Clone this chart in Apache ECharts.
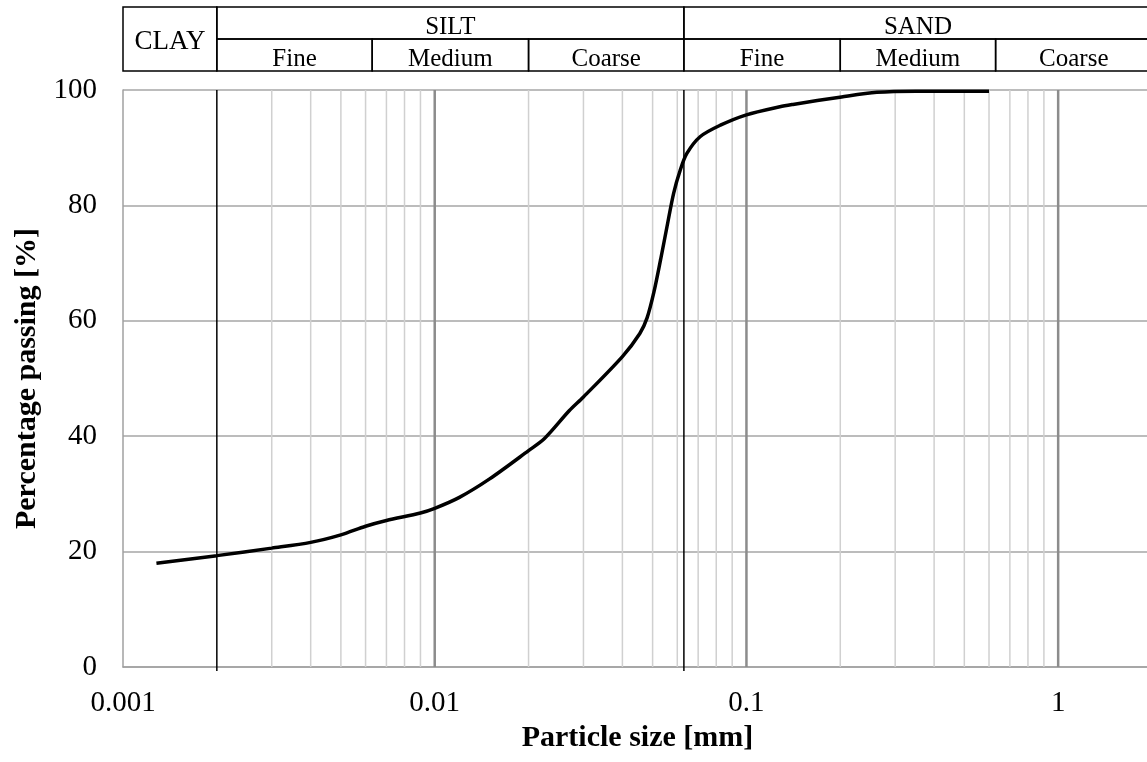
<!DOCTYPE html>
<html>
<head>
<meta charset="utf-8">
<script src="https://cdn.jsdelivr.net/npm/echarts@6/dist/echarts.min.js"></script>
<style>
  html, body { margin: 0; padding: 0; background: #ffffff; }
  #chart { width: 1147px; height: 762px; }
</style>
</head>
<body>
<div id="chart"></div>
<script>
// Grain size distribution (sieve + hydrometer)
const sizeMm = [0.00128, 0.002, 0.003, 0.004, 0.005, 0.006, 0.007, 0.009, 0.010, 0.012,
                0.015, 0.020, 0.0225, 0.027, 0.030, 0.040, 0.0455, 0.048, 0.0505, 0.053,
                0.0556, 0.0584, 0.0613, 0.0644, 0.071, 0.0825, 0.100, 0.128, 0.141, 0.202,
                0.262, 0.35, 0.60];
const passingPct = [18.0, 19.3, 20.6, 21.6, 22.9, 24.4, 25.4, 26.7, 27.5, 29.4,
                    32.6, 37.5, 39.6, 44.4, 46.8, 53.8, 57.8, 60.5, 65.0, 70.5,
                    76.3, 82.1, 86.1, 89.0, 91.9, 93.9, 95.7, 97.1, 97.5, 98.8,
                    99.6, 99.8, 99.8];

// Axis ticks
const xTickValues = [0.001, 0.01, 0.1, 1];
const xTickLabels = ['0.001', '0.01', '0.1', '1'];
const yTickValues = [0, 20, 40, 60, 80, 100];

// Soil classification bands (mm)
const classNames = ['CLAY', 'SILT', 'SAND'];
const classFrom  = [0.001, 0.002, 0.063];
const classTo    = [0.002, 0.063, 2];
const subNames = ['Fine', 'Medium', 'Coarse', 'Fine', 'Medium', 'Coarse'];
const subFrom  = [0.002, 0.0063, 0.02, 0.063, 0.2, 0.63];
const subTo    = [0.0063, 0.02, 0.063, 0.2, 0.63, 2];

const X_MIN = 0.001, X_MAX = 2;
const SERIF = '"Liberation Serif", "Times New Roman", serif';

// Header cells: [from, to, rowTop, rowBottom, label]
const headerCells = [];
classNames.forEach((name, i) => {
  const hasSub = subFrom.some((f, j) => f >= classFrom[i] && subTo[j] <= classTo[i]);
  headerCells.push([classFrom[i], classTo[i], 0, hasSub ? 1 : 2, name]);
});
subNames.forEach((name, j) => headerCells.push([subFrom[j], subTo[j], 1, 2, name]));

// Vertical grid lines of the log paper: 0 = minor, 1 = decade, 2 = class boundary
const boundaries = [classTo[0], classTo[1]];
const vLines = [];
xTickValues.forEach(dec => {
  for (let m = 2; m <= 9; m++) {
    const v = +(dec * m).toPrecision(3);
    if (v < X_MAX && !boundaries.includes(v)) vLines.push([v, 0]);
  }
  if (dec > X_MIN) vLines.push([dec, 1]);
});
boundaries.forEach(b => vLines.push([b, 2]));

const chart = echarts.init(document.getElementById('chart'), null, { renderer: 'canvas' });

const option = {
  backgroundColor: '#ffffff',
  animation: false,
  grid: [
    { left: 123, top: 90, width: 1029, bottom: 95, outerBoundsMode: 'none', containLabel: false },
    { left: 123, top: 7, width: 1029, height: 64, outerBoundsMode: 'none', containLabel: false }
  ],
  xAxis: [
    {
      type: 'log', logBase: 10, min: X_MIN, max: X_MAX, gridIndex: 0,
      name: 'Particle size [mm]', nameLocation: 'middle', nameGap: 51,
      nameTextStyle: { fontFamily: SERIF, fontSize: 30, fontWeight: 'bold', color: '#000' },
      axisLine: { show: true, lineStyle: { color: '#a0a0a0', width: 1.5 } },
      axisTick: { show: false },
      splitLine: { show: false },
      axisLabel: {
        margin: 22, fontFamily: SERIF, fontSize: 29, color: '#000', showMaxLabel: false,
        formatter: v => {
          const i = xTickValues.findIndex(t => Math.abs(Math.log10(v) - Math.log10(t)) < 1e-6);
          return i >= 0 ? xTickLabels[i] : '';
        }
      }
    },
    { type: 'log', logBase: 10, min: X_MIN, max: X_MAX, gridIndex: 1, show: false }
  ],
  yAxis: [
    {
      type: 'value', min: yTickValues[0], max: yTickValues[yTickValues.length - 1],
      interval: yTickValues[1] - yTickValues[0], gridIndex: 0,
      name: 'Percentage passing [%]', nameLocation: 'middle', nameGap: 80,
      nameTextStyle: { fontFamily: SERIF, fontSize: 30, fontWeight: 'bold', color: '#000' },
      axisLine: { show: true, lineStyle: { color: '#a0a0a0', width: 1.5 } },
      axisTick: { show: false },
      splitLine: { show: true, lineStyle: { color: '#a6a6a6', width: 1.5 } },
      axisLabel: { margin: 26, fontFamily: SERIF, fontSize: 29, color: '#000' }
    },
    { type: 'value', min: 0, max: 2, inverse: true, gridIndex: 1, show: false }
  ],
  series: [
    {
      // log-paper vertical lines
      type: 'custom', xAxisIndex: 0, yAxisIndex: 0, z: 1, silent: true,
      data: vLines,
      encode: { x: 0, y: 1 },
      renderItem: (params, api) => {
        const v = api.value(0), kind = api.value(1);
        const p0 = api.coord([v, 0]);
        const p1 = api.coord([v, 100]);
        const styles = [
          { stroke: '#d0d0d0', lineWidth: 1.5 },
          { stroke: '#8c8c8c', lineWidth: 2.5 },
          { stroke: '#000000', lineWidth: 1.5 }
        ];
        return {
          type: 'line',
          shape: { x1: p0[0], y1: p0[1] + (kind === 2 ? 4 : 0), x2: p1[0], y2: p1[1] },
          style: styles[kind]
        };
      }
    },
    {
      type: 'line', xAxisIndex: 0, yAxisIndex: 0, z: 5,
      data: sizeMm.map((d, i) => [d, passingPct[i]]),
      showSymbol: false, symbol: 'none',
      smooth: 0.3,
      lineStyle: { color: '#000000', width: 3.5 }
    },
    {
      // classification header table
      type: 'custom', xAxisIndex: 1, yAxisIndex: 1, silent: true, clip: false,
      data: headerCells,
      encode: { x: [0, 1], y: [2, 3] },
      renderItem: (params, api) => {
        const x0 = api.value(0), x1 = api.value(1), r0 = api.value(2), r1 = api.value(3);
        const label = headerCells[params.dataIndex][4];
        const a = api.coord([x0, r0]);
        const b = api.coord([x1, r1]);
        const big = (r1 - r0) > 1;
        return {
          type: 'group',
          children: [
            {
              type: 'rect',
              shape: { x: a[0], y: a[1], width: b[0] - a[0], height: b[1] - a[1] },
              style: { fill: 'none', stroke: '#000000', lineWidth: 1.5 }
            },
            {
              type: 'text',
              x: (a[0] + b[0]) / 2,
              y: (a[1] + b[1]) / 2 + (big ? 3 : 4),
              style: {
                text: label, fontFamily: SERIF, fontSize: big ? 27 : 25, fill: '#000',
                align: 'center', verticalAlign: 'middle'
              }
            }
          ]
        };
      }
    }
  ]
};

chart.setOption(option);
</script>
</body>
</html>
